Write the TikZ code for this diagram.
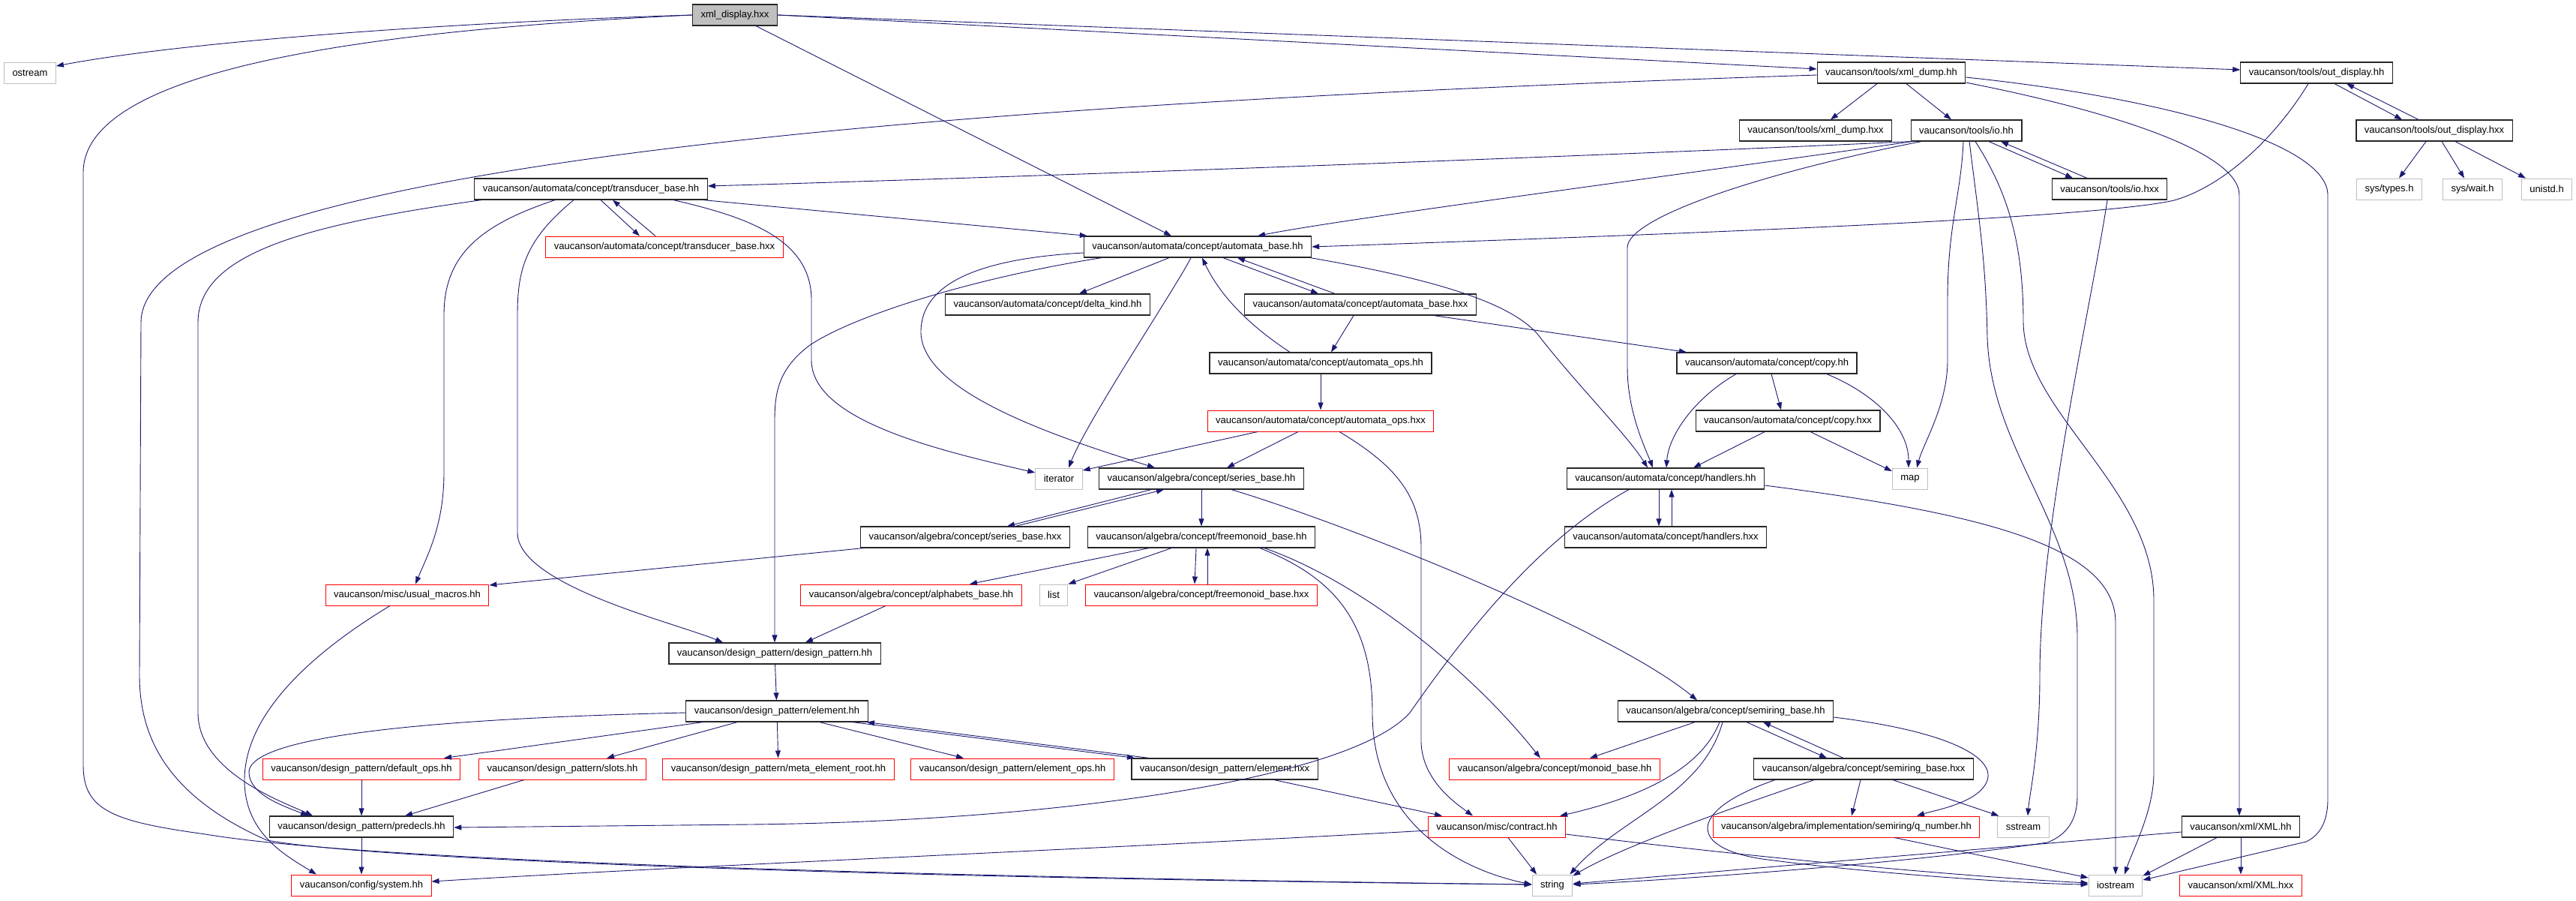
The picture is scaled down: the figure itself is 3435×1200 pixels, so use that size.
\documentclass[tikz,border=0pt]{standalone}
\usepackage{fontspec}
\setmainfont{Liberation Sans}
\usepackage{tikz}
\usetikzlibrary{arrows.meta}
\definecolor{edgeblue}{HTML}{191970}
\definecolor{truncred}{HTML}{FF0000}
\definecolor{sysgray}{HTML}{BFBFBF}

\begin{document}
\begin{tikzpicture}[x=1pt,y=-1pt,
    box/.style={draw, line width=1pt, minimum height=28pt, inner xsep=11pt, inner ysep=0pt,
      font=\fontsize{13}{15}\selectfont},
    file/.style={box, draw=black!85, line width=1.2pt},
    trunc/.style={box, draw=truncred},
    sysfile/.style={box, draw=sysgray},
    rootfile/.style={box, draw=black!85, line width=1.2pt, fill=sysgray},
    dep/.style={draw=edgeblue, line width=0.9pt, -{Triangle[length=10pt,width=7pt]}}]
    \fill[white] (0,0) rectangle (3435,1200);
    \useasboundingbox (0,0) rectangle (3435,1200);

    % rank 0 to 3
    \node[rootfile] (root) at (980,20) {xml\_display.hxx};
    \node[sysfile] (ostream) at (40,97) {ostream};
    \node[file] (xmldumphh) at (2522,97) {vaucanson/tools/xml\_dump.hh};
    \node[file] (outdisphh) at (3089,97) {vaucanson/tools/out\_display.hh};
    \node[file] (xmldumphxx) at (2421,174) {vaucanson/tools/xml\_dump.hxx};
    \node[file] (iohh) at (2622,174) {vaucanson/tools/io.hh};
    \node[file] (outdisphxx) at (3246,174) {vaucanson/tools/out\_display.hxx};
    \node[file] (transhh) at (788,252) {vaucanson/automata/concept/transducer\_base.hh};
    \node[file] (iohxx) at (2813,252) {vaucanson/tools/io.hxx};
    \node[sysfile] (systypes) at (3186,252) {sys/types.h};
    \node[sysfile] (syswait) at (3297,252) {sys/wait.h};
    \node[sysfile] (unistd) at (3396,252) {unistd.h};

    % rank 4 to 7
    \node[trunc] (transhxx) at (886,329) {vaucanson/automata/concept/transducer\_base.hxx};
    \node[file] (autobasehh) at (1597,329) {vaucanson/automata/concept/automata\_base.hh};
    \node[file] (deltakind) at (1397,406) {vaucanson/automata/concept/delta\_kind.hh};
    \node[file] (autobasehxx) at (1814,406) {vaucanson/automata/concept/automata\_base.hxx};
    \node[file] (autoopshh) at (1761,484) {vaucanson/automata/concept/automata\_ops.hh};
    \node[file] (copyhh) at (2356,484) {vaucanson/automata/concept/copy.hh};
    \node[trunc] (autoopshxx) at (1761,561) {vaucanson/automata/concept/automata\_ops.hxx};
    \node[file] (copyhxx) at (2384,561) {vaucanson/automata/concept/copy.hxx};

    % rank 8 to 11
    \node[sysfile] (iterator) at (1412,638) {iterator};
    \node[file] (seriesbasehh) at (1602,638) {vaucanson/algebra/concept/series\_base.hh};
    \node[file] (handlershh) at (2221,638) {vaucanson/automata/concept/handlers.hh};
    \node[sysfile] (map) at (2547,638) {map};
    \node[file] (seriesbasehxx) at (1287,716) {vaucanson/algebra/concept/series\_base.hxx};
    \node[file] (freemonhh) at (1602,716) {vaucanson/algebra/concept/freemonoid\_base.hh};
    \node[file] (handlershxx) at (2221,716) {vaucanson/automata/concept/handlers.hxx};
    \node[trunc] (usualmacros) at (543,793) {vaucanson/misc/usual\_macros.hh};
    \node[trunc] (alphabets) at (1215,793) {vaucanson/algebra/concept/alphabets\_base.hh};
    \node[sysfile] (list) at (1405,793) {list};
    \node[trunc] (freemonhxx) at (1602,793) {vaucanson/algebra/concept/freemonoid\_base.hxx};
    \node[file] (designpattern) at (1033,871) {vaucanson/design\_pattern/design\_pattern.hh};

    % rank 12 to 15
    \node[file] (elementhh) at (1036,948) {vaucanson/design\_pattern/element.hh};
    \node[file] (semiringhh) at (2301,948) {vaucanson/algebra/concept/semiring\_base.hh};
    \node[trunc] (defaultops) at (482,1025) {vaucanson/design\_pattern/default\_ops.hh};
    \node[trunc] (slots) at (750,1025) {vaucanson/design\_pattern/slots.hh};
    \node[trunc] (metaroot) at (1038,1025) {vaucanson/design\_pattern/meta\_element\_root.hh};
    \node[trunc] (elementops) at (1350,1025) {vaucanson/design\_pattern/element\_ops.hh};
    \node[file] (elementhxx) at (1633,1025) {vaucanson/design\_pattern/element.hxx};
    \node[trunc] (monoidbase) at (2073,1025) {vaucanson/algebra/concept/monoid\_base.hh};
    \node[file] (semiringhxx) at (2485,1025) {vaucanson/algebra/concept/semiring\_base.hxx};
    \node[file] (predecls) at (482,1102) {vaucanson/design\_pattern/predecls.hh};
    \node[trunc] (contract) at (1996,1102) {vaucanson/misc/contract.hh};
    \node[trunc] (qnumber) at (2462,1102) {vaucanson/algebra/implementation/semiring/q\_number.hh};
    \node[sysfile] (sstream) at (2698,1102) {sstream};
    \node[file] (xmlhh) at (2988,1102) {vaucanson/xml/XML.hh};
    \node[trunc] (system) at (482,1180) {vaucanson/config/system.hh};
    \node[sysfile] (string) at (2070,1180) {string};
    \node[sysfile] (iostream) at (2821,1180) {iostream};
    \node[trunc] (xmlhxx) at (2988,1180) {vaucanson/xml/XML.hxx};

    % xml_display.hxx
    \draw[dep] (root.west) .. controls (600,30) and (250,55) .. ([yshift=9]ostream.east);
    \draw[dep] (root.west) .. controls (500,40) and (111,90) .. (111,230) -- (111,1020)
        .. controls (111,1080) and (150,1095) .. (274,1112)
        .. controls (500,1150) and (1300,1170) .. ([yshift=1]string.west);
    \draw[dep] ([xshift=28]root.south) -- ([xshift=-35]autobasehh.north);
    \draw[dep] (root.east) -- ([yshift=5]xmldumphh.west);
    \draw[dep] (root.east) -- ([yshift=4]outdisphh.west);

    % tools
    \draw[dep] ([xshift=-19]xmldumphh.south) -- ([xshift=20]xmldumphxx.north);
    \draw[dep] ([xshift=20]xmldumphh.south) -- ([xshift=-20]iohh.north);
    \draw[dep] ([yshift=-3]xmldumphh.west) .. controls (1500,130) and (188,200) .. (188,430) -- (186,900)
        .. controls (186,980) and (220,1060) .. (356,1120)
        .. controls (520,1150) and (1300,1172) .. ([yshift=1]string.west);
    \draw[dep] ([yshift=-6]xmldumphh.east) .. controls (2880,130) and (3104,190) .. (3104,260) -- (3104,1065)
        .. controls (3104,1100) and (3090,1115) .. (3075,1122) -- ([yshift=7]iostream.east);
    \draw[dep] ([yshift=-13]xmldumphh.east) .. controls (2800,145) and (2986,200) .. (2986,260)
        -- ([xshift=-2]xmlhh.north);
    \draw[dep] ([xshift=24]outdisphh.south) -- ([xshift=-43]outdisphxx.north);
    \draw[dep] ([xshift=-21]outdisphxx.north) -- ([xshift=40]outdisphh.south);
    \draw[dep] ([xshift=-11]outdisphh.south) .. controls (3030,190) and (2960,250) .. (2899,267)
        .. controls (2800,290) and (2300,310) .. (autobasehh.east);
    \draw[dep] ([xshift=-11]outdisphxx.south) -- ([xshift=13]systypes.north);
    \draw[dep] ([xshift=10]outdisphxx.south) -- ([xshift=-11]syswait.north);
    \draw[dep] ([xshift=28]outdisphxx.south) -- ([xshift=-28]unistd.north);
    \draw[dep] (iohh.south west) .. controls (2200,205) and (1400,235) .. ([yshift=4]transhh.east);
    \draw[dep] ([xshift=2]iohh.south west) .. controls (2300,225) and (1800,290) .. ([xshift=80]autobasehh.north);
    \draw[dep] ([xshift=-60]iohh.south) .. controls (2350,230) and (2170,290) .. (2170,330) -- (2170,490)
        .. controls (2170,550) and (2195,600) .. ([xshift=-17]handlershh.north);
    \draw[dep] ([xshift=-4]iohh.south) .. controls (2615,260) and (2597,300) .. (2597,400) -- (2597,480)
        .. controls (2597,540) and (2565,590) .. ([xshift=9]map.north);
    \draw[dep] ([xshift=4]iohh.south) .. controls (2640,300) and (2648,350) .. (2650,450)
        .. controls (2655,600) and (2770,700) .. (2770,850) -- (2770,1060)
        .. controls (2770,1100) and (2750,1115) .. (2730,1123)
        .. controls (2550,1150) and (2250,1172) .. ([yshift=1]string.east);
    \draw[dep] ([xshift=12]iohh.south) .. controls (2680,260) and (2698,330) .. (2698,430)
        .. controls (2700,550) and (2872,650) .. (2872,800) -- (2872,1030)
        .. controls (2872,1080) and (2845,1130) .. ([xshift=12]iostream.north);
    \draw[dep] ([xshift=30]iohh.south) -- ([xshift=-49]iohxx.north);
    \draw[dep] ([xshift=-30]iohxx.north) -- ([xshift=46]iohh.south);
    \draw[dep] ([xshift=-3]iohxx.south) .. controls (2790,400) and (2720,700) .. (2720,900)
        .. controls (2720,1000) and (2706,1060) .. ([xshift=6]sstream.north);

    % automata
    \draw[dep] ([xshift=13]transhh.south) -- ([xshift=-33]transhxx.north);
    \draw[dep] ([xshift=-12]transhxx.north) -- ([xshift=29]transhh.south);
    \draw[dep] ([xshift=-6]transhh.south east) -- ([xshift=5]autobasehh.north west);
    \draw[dep] ([xshift=110]transhh.south) .. controls (1000,290) and (1082,320) .. (1082,400) -- (1082,480)
        .. controls (1082,560) and (1250,600) .. ([yshift=8]iterator.west);
    \draw[dep] ([xshift=-48]transhh.south) .. controls (640,300) and (592,340) .. (592,420) -- (592,630)
        .. controls (592,700) and (570,740) .. ([xshift=11]usualmacros.north);
    \draw[dep] ([xshift=-23]transhh.south) .. controls (700,320) and (690,360) .. (690,420) -- (690,710)
        .. controls (690,780) and (900,830) .. ([xshift=-69]designpattern.north);
    \draw[dep] ([xshift=-146]transhh.south) .. controls (400,300) and (264,340) .. (264,430) -- (264,950)
        .. controls (264,1030) and (380,1070) .. ([xshift=-65]predecls.north);
    \draw[dep] ([xshift=-38]autobasehh.south) -- ([xshift=42]deltakind.north);
    \draw[dep] ([xshift=-9]autobasehh.south) .. controls (1570,380) and (1450,560) .. ([xshift=13]iterator.north);
    \draw[dep] ([xshift=-41]autoopshh.north) .. controls (1660,430) and (1625,390) .. ([xshift=6]autobasehh.south);
    \draw[dep] ([xshift=34]autobasehh.south) -- ([xshift=-56]autobasehxx.north);
    \draw[dep] ([xshift=-34]autobasehxx.north) -- ([xshift=53]autobasehh.south);
    \draw[dep] ([yshift=-8]autobasehh.west) .. controls (1300,345) and (1230,380) .. (1228,440)
        .. controls (1225,520) and (1400,580) .. ([xshift=-62]seriesbasehh.north);
    \draw[dep] ([xshift=-128]autobasehh.south) .. controls (1300,370) and (1140,420) .. (1080,460)
        .. controls (1040,490) and (1033,520) .. (1033,560) -- (designpattern.north);
    \draw[dep] ([xshift=-2]autobasehh.south east) .. controls (1900,370) and (2010,400) .. (2050,445)
        .. controls (2100,510) and (2170,580) .. ([xshift=-24]handlershh.north);
    \draw[dep] ([xshift=-9]autobasehxx.south) -- ([xshift=14]autoopshh.north);
    \draw[dep] ([xshift=98]autobasehxx.south) -- ([xshift=-107]copyhh.north);
    \draw[dep] (autoopshh) -- (autoopshxx);
    \draw[dep] ([xshift=-84]autoopshxx.south) -- ([yshift=11]iterator.east);
    \draw[dep] ([xshift=-30]autoopshxx.south) -- ([xshift=34]seriesbasehh.north);
    \draw[dep] ([xshift=25]autoopshxx.south) .. controls (1860,620) and (1895,660) .. (1895,730) -- (1895,990)
        .. controls (1897,1040) and (1940,1070) .. ([xshift=-32]contract.north);
    \draw[dep] ([xshift=-41]copyhh.south) .. controls (2260,530) and (2225,580) .. ([xshift=1]handlershh.north);
    \draw[dep] ([xshift=6]copyhh.south) -- ([xshift=-9]copyhxx.north);
    \draw[dep] ([xshift=80]copyhh.south) .. controls (2500,525) and (2545,570) .. ([xshift=-2]map.north);
    \draw[dep] ([xshift=-31]copyhxx.south) -- ([xshift=37]handlershh.north);
    \draw[dep] ([xshift=30]copyhxx.south) -- ([yshift=10]map.west);
    \draw[dep] ([xshift=-9]handlershh.south) -- ([xshift=-9]handlershxx.north);
    \draw[dep] ([xshift=8]handlershxx.north) -- ([xshift=8]handlershh.south);
    \draw[dep] ([yshift=-9]handlershh.east) .. controls (2650,685) and (2821,730) .. (2821,830) -- (iostream.north);
    \draw[dep] ([xshift=-49]handlershh.south) .. controls (2050,720) and (1950,850) .. (1880,950)
        .. controls (1800,1040) and (1400,1095) .. (1000,1099) -- ([yshift=-1]predecls.east);

    % algebra
    \draw[dep] (seriesbasehh) -- (freemonhh);
    \draw[dep] ([xshift=-67]seriesbasehh.south) -- ([xshift=56]seriesbasehxx.north);
    \draw[dep] ([xshift=67]seriesbasehxx.north) -- ([xshift=-50]seriesbasehh.south);
    \draw[dep] ([xshift=40]seriesbasehh.south) .. controls (1800,700) and (2150,840) .. ([xshift=-38]semiringhh.north);
    \draw[dep] ([xshift=-136]seriesbasehxx.south) -- ([yshift=13]usualmacros.east);
    \draw[dep] ([xshift=-70]freemonhh.south) -- ([xshift=78]alphabets.north);
    \draw[dep] ([xshift=-40]freemonhh.south) -- (list.north east);
    \draw[dep] ([xshift=-7]freemonhh.south) -- ([xshift=-9]freemonhxx.north);
    \draw[dep] ([xshift=8]freemonhxx.north) -- ([xshift=8]freemonhh.south);
    \draw[dep] ([xshift=78]freemonhh.south) .. controls (1780,770) and (1830,830) .. (1830,950)
        .. controls (1830,1100) and (1950,1160) .. ([yshift=1]string.west);
    \draw[dep] ([xshift=84]freemonhh.south) .. controls (1800,770) and (1950,880) .. ([xshift=-19]monoidbase.north);
    \draw[dep] ([xshift=-34]alphabets.south) -- ([xshift=41]designpattern.north);
    \draw[dep] ([xshift=-23]usualmacros.south) .. controls (400,880) and (326,960) .. (326,1040)
        .. controls (326,1110) and (380,1140) .. ([xshift=-60]system.north);

    % design_pattern
    \draw[dep] (designpattern) -- (elementhh);
    \draw[dep] ([xshift=-99]elementhh.south) -- ([xshift=110]defaultops.north);
    \draw[dep] ([xshift=-53]elementhh.south) -- ([xshift=59]slots.north);
    \draw[dep] ([yshift=-2]elementhh.west) .. controls (700,955) and (330,970) .. (332,1030)
        .. controls (333,1060) and (380,1075) .. ([xshift=-71]predecls.north);
    \draw[dep] (elementhh) -- (metaroot);
    \draw[dep] ([xshift=57]elementhh.south) -- ([xshift=-65]elementops.north);
    \draw[dep] ([xshift=101]elementhh.south) -- ([xshift=-120]elementhxx.north);
    \draw[dep] ([xshift=-101]elementhxx.north) -- ([xshift=120]elementhh.south);
    \draw[dep] ([xshift=66]elementhxx.south) -- ([xshift=-73]contract.north);
    \draw[dep] (defaultops) -- (predecls);
    \draw[dep] ([xshift=-51]slots.south) -- ([xshift=58]predecls.north);
    \draw[dep] (predecls) -- (system);

    % semiring
    \draw[dep] ([xshift=-41]semiringhh.south) -- ([xshift=47]monoidbase.north);
    \draw[dep] ([xshift=-8]semiringhh.south) .. controls (2270,1020) and (2200,1060) .. ([xshift=-8]contract.north east);
    \draw[dep] ([xshift=-4]semiringhh.south) .. controls (2270,1060) and (2160,1090) .. ([xshift=-4]string.north east);
    \draw[dep] ([xshift=28]semiringhh.south) -- ([xshift=-49]semiringhxx.north);
    \draw[dep] ([xshift=-27]semiringhxx.north) -- ([xshift=50]semiringhh.south);
    \draw[dep] ([yshift=-8]semiringhh.east) .. controls (2600,975) and (2660,1010) .. (2650,1040)
        .. controls (2640,1070) and (2580,1080) .. ([xshift=94]qnumber.north);
    \draw[dep] ([xshift=-4]semiringhxx.south) -- ([xshift=7]qnumber.north);
    \draw[dep] ([xshift=39]semiringhxx.south) -- ([xshift=2]sstream.north west);
    \draw[dep] ([xshift=-66]semiringhxx.south) .. controls (2300,1080) and (2160,1130) .. ([yshift=-2]string.north east);
    \draw[dep] ([xshift=-118]semiringhxx.south) .. controls (2250,1080) and (2250,1130) .. (2350,1145)
        .. controls (2500,1165) and (2700,1178) .. ([yshift=1]iostream.west);
    \draw[dep] ([xshift=64]qnumber.south) -- ([yshift=10]iostream.west);
    \draw[dep] ([xshift=15]contract.south) -- ([xshift=-21]string.north);
    \draw[dep] ([yshift=-5]contract.west) .. controls (1500,1130) and (900,1155) .. ([yshift=5]system.east);
    \draw[dep] ([yshift=-10]contract.east) .. controls (2400,1150) and (2650,1170) .. ([yshift=3]iostream.west);

    % xml
    \draw[dep] ([yshift=-7]xmlhh.west) -- ([yshift=2]string.east);
    \draw[dep] ([xshift=-32]xmlhh.south) -- ([yshift=-2]iostream.north east);
    \draw[dep] (xmlhh) -- (xmlhxx);
\end{tikzpicture}
\end{document}
